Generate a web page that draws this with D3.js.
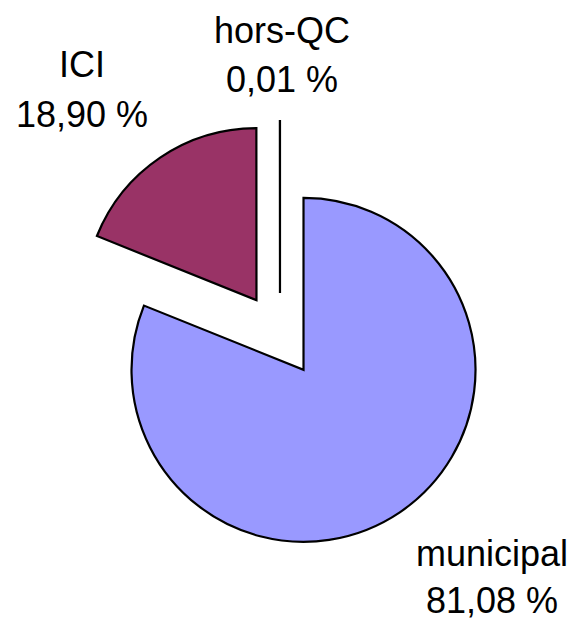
<!DOCTYPE html>
<html>
<head>
<meta charset="utf-8">
<script src="https://cdn.jsdelivr.net/npm/d3@7"></script>
<style>
  body { margin: 0; background: #fff; }
  text { font-family: "Liberation Sans", Arial, sans-serif; }
</style>
</head>
<body>
<script>
// Data
var categories = ["municipal", "ICI", "hors-QC"];
var values = [81.08, 18.90, 0.01];
var valueLabels = ["81,08 %", "18,90 %", "0,01 %"];
var colors = ["#9999FF", "#993366", "#FFFFCC"];

var width = 575,
  height = 621;
var cx = 280, cy = 335;
var radius = 172;
var explode = 42;

// label anchor (baseline of first line) for each slice
var labelPos = [
  { x: 492, y: 566, gap: 47 },
  { x: 82, y: 77, gap: 50 },
  { x: 282, y: 43, gap: 49 }
];

var svg = d3.select('body')
  .append('svg')
  .attr('width', width)
  .attr('height', height);

var pie = d3.pie()
  .sort(null)
  .value(function(d) { return d; });

var arc = d3.arc()
  .innerRadius(0)
  .outerRadius(radius);

var arcs = pie(values);

var g = svg.append('g')
  .attr('transform', `translate(${cx},${cy})`);

g.selectAll('.slice')
  .data(arcs)
  .enter()
  .append('path')
  .attr('class', 'slice')
  .attr('transform', function(d) {
    var a = (d.startAngle + d.endAngle) / 2;
    return `translate(${Math.sin(a) * explode},${-Math.cos(a) * explode})`;
  })
  .attr('d', arc)
  .attr('fill', function(d, i) { return colors[i]; })
  .attr('stroke', '#000')
  .attr('stroke-width', 2.2)
  .attr('stroke-linejoin', 'miter');

// Labels
var lab = svg.selectAll('.lab')
  .data(categories)
  .enter()
  .append('text')
  .attr('class', 'lab')
  .attr('text-anchor', 'middle')
  .style('font-size', '36px')
  .attr('fill', '#000');

lab.append('tspan')
  .attr('x', function(d, i) { return labelPos[i].x; })
  .attr('y', function(d, i) { return labelPos[i].y; })
  .text(function(d) { return d; });

lab.append('tspan')
  .attr('x', function(d, i) { return labelPos[i].x; })
  .attr('y', function(d, i) { return labelPos[i].y + labelPos[i].gap; })
  .text(function(d, i) { return valueLabels[i]; });
</script>
</body>
</html>
